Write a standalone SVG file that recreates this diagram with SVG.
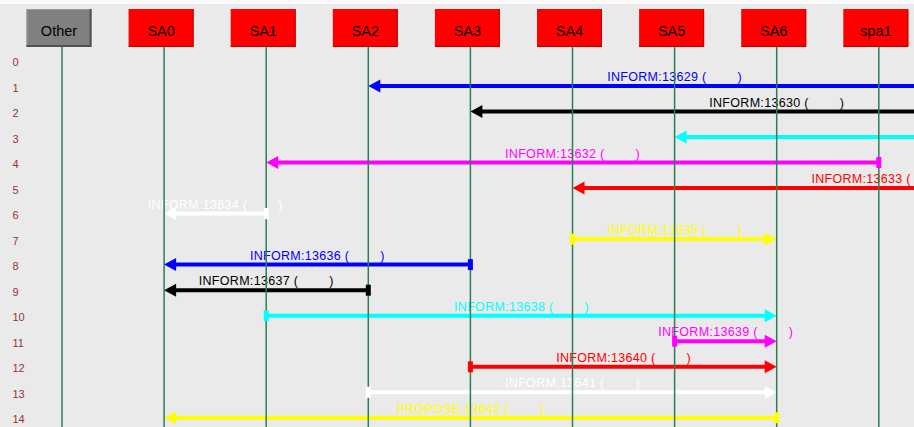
<svg xmlns="http://www.w3.org/2000/svg" xmlns:xlink="http://www.w3.org/1999/xlink" width="914" height="427" viewBox="0 0 914 427">
  <style>
    .bg{fill:#eaeaea}
    .life{stroke:#2f7d52;stroke-width:1.5}
    .box-red{fill:#ff0000}
    .box-red-edge{fill:none;stroke:#c80000;stroke-width:1.2}
    .box-grey{fill:#808080}
    .box-grey-edge{fill:none;stroke:#505050;stroke-width:2}
    .box-grey-hi{fill:none;stroke:#9a9a9a;stroke-width:1}
    .name{font-family:"Liberation Sans",Arial,sans-serif;font-size:14.5px;fill:#000;text-anchor:middle}
    .row{font-family:"Liberation Sans",Arial,sans-serif;font-size:11px;fill:#993333}
    .ln{stroke:currentColor;stroke-width:4;fill:none}
    .hd{fill:currentColor;stroke:none}
    .bar{fill:currentColor;stroke:none}
    .lbl{fill:currentColor;font-family:"Liberation Sans",Arial,sans-serif;font-size:12.5px;letter-spacing:0.3px;text-anchor:middle}
    .k-blue{color:#0000ff}
    .k-black{color:#000000}
    .k-cyan{color:#00ffff}
    .k-magenta{color:#ff00ff}
    .k-red{color:#ff0000}
    .k-white{color:#ffffff}
    .k-yellow{color:#ffff00}
  </style>
  <defs>
    <!-- arrowheads: tip at the origin -->
    <path id="head-l" d="M0,0 L12,-6.5 L12,6.5 Z"/>
    <path id="head-r" d="M0,0 L-12,-6.5 L-12,6.5 Z"/>
    <!-- sender mark drawn on the source lifeline -->
    <rect id="send-mark" x="-2.5" y="-5.5" width="5" height="11"/>
  </defs>

  <rect class="bg" x="0" y="0" width="914" height="427"/>
  <rect x="0" y="0" width="914" height="4" fill="#fafafa"/>

  <!-- row indices -->
  <g id="rows" class="row">
    <text x="12.5" y="65.9">0</text>
    <text x="12.5" y="91.5">1</text>
    <text x="12.5" y="117.0">2</text>
    <text x="12.5" y="142.5">3</text>
    <text x="12.5" y="168.0">4</text>
    <text x="12.5" y="193.6">5</text>
    <text x="12.5" y="219.1">6</text>
    <text x="12.5" y="244.6">7</text>
    <text x="12.5" y="270.1">8</text>
    <text x="12.5" y="295.7">9</text>
    <text x="12.5" y="321.2">10</text>
    <text x="12.5" y="346.7">11</text>
    <text x="12.5" y="372.3">12</text>
    <text x="12.5" y="397.8">13</text>
    <text x="12.5" y="423.3">14</text>
  </g>

  <!-- messages: line, head and label -->
  <g id="connectors">
    <g id="m13629" class="k-blue">
      <line class="ln" x1="980.9" y1="86.0" x2="378" y2="86.0"/>
      <use href="#head-l" class="hd" x="368.3" y="86.0"/>
      <text class="lbl" x="674.6" y="81.0">INFORM:13629 (<tspan dx="31">)</tspan></text>
    </g>
    <g id="m13630" class="k-black">
      <line class="ln" x1="1083" y1="111.5" x2="480" y2="111.5"/>
      <use href="#head-l" class="hd" x="470.4" y="111.5"/>
      <text class="lbl" x="776.7" y="106.5">INFORM:13630 (<tspan dx="31">)</tspan></text>
    </g>
    <g id="m13631" class="k-cyan">
      <line class="ln" x1="1287.2" y1="137.0" x2="684" y2="137.0"/>
      <use href="#head-l" class="hd" x="674.6" y="137.0"/>
      <text class="lbl" x="980.9" y="132.0">INFORM:13631 (<tspan dx="31">)</tspan></text>
    </g>
    <g id="m13632" class="k-magenta">
      <line class="ln" x1="878.8" y1="162.5" x2="276" y2="162.5"/>
      <use href="#head-l" class="hd" x="266.2" y="162.5"/>
      <text class="lbl" x="572.5" y="157.5">INFORM:13632 (<tspan dx="31">)</tspan></text>
    </g>
    <g id="m13633" class="k-red">
      <line class="ln" x1="1185.1" y1="188.1" x2="582" y2="188.1"/>
      <use href="#head-l" class="hd" x="572.5" y="188.1"/>
      <text class="lbl" x="878.8" y="183.1">INFORM:13633 (<tspan dx="31">)</tspan></text>
    </g>
    <g id="m13634" class="k-white">
      <line class="ln" x1="266.2" y1="213.6" x2="174" y2="213.6"/>
      <use href="#head-l" class="hd" x="164.1" y="213.6"/>
      <text class="lbl" x="215.2" y="208.6">INFORM:13634 (<tspan dx="31">)</tspan></text>
    </g>
    <g id="m13635" class="k-yellow">
      <line class="ln" x1="572.5" y1="239.1" x2="767" y2="239.1"/>
      <use href="#head-r" class="hd" x="776.7" y="239.1"/>
      <text class="lbl" x="674.6" y="234.1">INFORM:13635 (<tspan dx="31">)</tspan></text>
    </g>
    <g id="m13636" class="k-blue">
      <line class="ln" x1="470.4" y1="264.6" x2="174" y2="264.6"/>
      <use href="#head-l" class="hd" x="164.1" y="264.6"/>
      <text class="lbl" x="317.3" y="259.6">INFORM:13636 (<tspan dx="31">)</tspan></text>
    </g>
    <g id="m13637" class="k-black">
      <line class="ln" x1="368.3" y1="290.2" x2="174" y2="290.2"/>
      <use href="#head-l" class="hd" x="164.1" y="290.2"/>
      <text class="lbl" x="266.2" y="285.2">INFORM:13637 (<tspan dx="31">)</tspan></text>
    </g>
    <g id="m13638" class="k-cyan">
      <line class="ln" x1="266.2" y1="315.7" x2="767" y2="315.7"/>
      <use href="#head-r" class="hd" x="776.7" y="315.7"/>
      <text class="lbl" x="521.5" y="310.7">INFORM:13638 (<tspan dx="31">)</tspan></text>
    </g>
    <g id="m13639" class="k-magenta">
      <line class="ln" x1="674.6" y1="341.2" x2="767" y2="341.2"/>
      <use href="#head-r" class="hd" x="776.7" y="341.2"/>
      <text class="lbl" x="725.7" y="336.2">INFORM:13639 (<tspan dx="31">)</tspan></text>
    </g>
    <g id="m13640" class="k-red">
      <line class="ln" x1="470.4" y1="366.8" x2="767" y2="366.8"/>
      <use href="#head-r" class="hd" x="776.7" y="366.8"/>
      <text class="lbl" x="623.6" y="361.8">INFORM:13640 (<tspan dx="31">)</tspan></text>
    </g>
    <g id="m13641" class="k-white">
      <line class="ln" x1="368.3" y1="392.3" x2="767" y2="392.3"/>
      <use href="#head-r" class="hd" x="776.7" y="392.3"/>
      <text class="lbl" x="572.5" y="387.3">INFORM:13641 (<tspan dx="31">)</tspan></text>
    </g>
    <g id="m13642" class="k-yellow">
      <line class="ln" x1="776.7" y1="417.8" x2="174" y2="417.8"/>
      <use href="#head-l" class="hd" x="164.1" y="417.8"/>
      <text class="lbl" x="470.4" y="412.8">PROPOSE:13642 (<tspan dx="31">)</tspan></text>
    </g>
  </g>

  <!-- agents: header box, name and lifeline -->
  <g id="agent-other">
    <rect class="box-grey" x="26.5" y="9" width="65" height="38"/>
    <polyline class="box-grey-hi" points="27,46 27,9.5 91,9.5"/>
    <polyline class="box-grey-edge" points="26.5,46 90.5,46 90.5,9"/>
    <text class="name" x="59" y="35.5">Other</text>
    <line class="life" x1="62" y1="47" x2="62" y2="427"/>
  </g>
  <g id="agent-sa0">
    <rect class="box-red" x="128.6" y="9" width="65" height="38"/>
    <polyline class="box-red-edge" points="128.6,46.4 193,46.4 193,9"/>
    <text class="name" x="161.1" y="35.5">SA0</text>
    <line class="life" x1="164.1" y1="47" x2="164.1" y2="427"/>
  </g>
  <g id="agent-sa1">
    <rect class="box-red" x="230.7" y="9" width="65" height="38"/>
    <polyline class="box-red-edge" points="230.7,46.4 295.1,46.4 295.1,9"/>
    <text class="name" x="263.2" y="35.5">SA1</text>
    <line class="life" x1="266.2" y1="47" x2="266.2" y2="427"/>
  </g>
  <g id="agent-sa2">
    <rect class="box-red" x="332.8" y="9" width="65" height="38"/>
    <polyline class="box-red-edge" points="332.8,46.4 397.2,46.4 397.2,9"/>
    <text class="name" x="365.3" y="35.5">SA2</text>
    <line class="life" x1="368.3" y1="47" x2="368.3" y2="427"/>
  </g>
  <g id="agent-sa3">
    <rect class="box-red" x="434.9" y="9" width="65" height="38"/>
    <polyline class="box-red-edge" points="434.9,46.4 499.3,46.4 499.3,9"/>
    <text class="name" x="467.4" y="35.5">SA3</text>
    <line class="life" x1="470.4" y1="47" x2="470.4" y2="427"/>
  </g>
  <g id="agent-sa4">
    <rect class="box-red" x="537" y="9" width="65" height="38"/>
    <polyline class="box-red-edge" points="537,46.4 601.4,46.4 601.4,9"/>
    <text class="name" x="569.5" y="35.5">SA4</text>
    <line class="life" x1="572.5" y1="47" x2="572.5" y2="427"/>
  </g>
  <g id="agent-sa5">
    <rect class="box-red" x="639.1" y="9" width="65" height="38"/>
    <polyline class="box-red-edge" points="639.1,46.4 703.5,46.4 703.5,9"/>
    <text class="name" x="671.6" y="35.5">SA5</text>
    <line class="life" x1="674.6" y1="47" x2="674.6" y2="427"/>
  </g>
  <g id="agent-sa6">
    <rect class="box-red" x="741.2" y="9" width="65" height="38"/>
    <polyline class="box-red-edge" points="741.2,46.4 805.6,46.4 805.6,9"/>
    <text class="name" x="773.7" y="35.5">SA6</text>
    <line class="life" x1="776.7" y1="47" x2="776.7" y2="427"/>
  </g>
  <g id="agent-spa1">
    <rect class="box-red" x="843.3" y="9" width="65" height="38"/>
    <polyline class="box-red-edge" points="843.3,46.4 907.7,46.4 907.7,9"/>
    <text class="name" x="875.8" y="35.5">spa1</text>
    <line class="life" x1="878.8" y1="47" x2="878.8" y2="427"/>
  </g>

  <!-- sender marks sit on top of the lifelines -->
  <g id="send-marks">
    <use href="#send-mark" class="bar k-magenta" x="878.8" y="162.5"/>
    <use href="#send-mark" class="bar k-white" x="266.2" y="213.6"/>
    <use href="#send-mark" class="bar k-yellow" x="572.5" y="239.1"/>
    <use href="#send-mark" class="bar k-blue" x="470.4" y="264.6"/>
    <use href="#send-mark" class="bar k-black" x="368.3" y="290.2"/>
    <use href="#send-mark" class="bar k-cyan" x="266.2" y="315.7"/>
    <use href="#send-mark" class="bar k-magenta" x="674.6" y="341.2"/>
    <use href="#send-mark" class="bar k-red" x="470.4" y="366.8"/>
    <use href="#send-mark" class="bar k-white" x="368.3" y="392.3"/>
    <use href="#send-mark" class="bar k-yellow" x="776.7" y="417.8"/>
  </g>
</svg>
